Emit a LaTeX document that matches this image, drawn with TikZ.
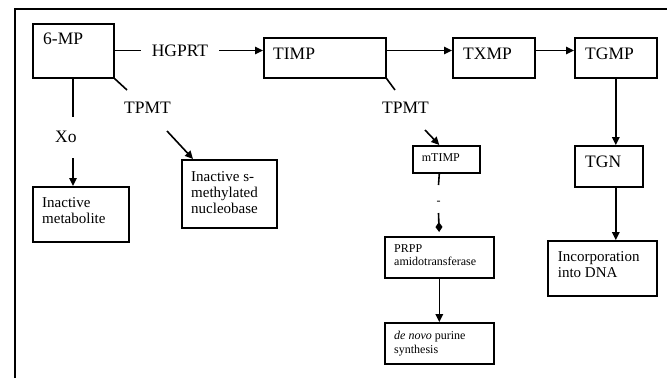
\documentclass[tikz,border=0pt]{standalone}
\usepackage{fontspec}
\setmainfont{Liberation Serif}
\usetikzlibrary{arrows.meta,calc}
\begin{document}
\begin{tikzpicture}[x=1pt,y=-1pt,
  box/.style={draw, line width=1.6pt, rectangle, inner sep=0pt, anchor=north west},
  big/.style={font=\fontsize{17.5}{21}\selectfont, inner sep=0pt, anchor=base west},
  mid/.style={font=\fontsize{15}{16}\selectfont, inner sep=0pt, anchor=base west, align=left},
  small/.style={font=\fontsize{12}{13.5}\selectfont, inner sep=0pt, anchor=base west, align=left},
  conn/.style={line width=1.6pt},
  arr/.style={conn, -{Triangle[length=8pt,width=7.5pt]}},
]
\useasboundingbox (0,0) rectangle (667,378);
% frame
\draw[line width=1.3pt] (15,378) -- (15,9) -- (667,9);

% boxes
\node[box, minimum width=81pt, minimum height=54pt] (mp) at (32,23) {};
\node[box, minimum width=96pt, minimum height=55pt] (inact1) at (32,186) {};
\node[box, minimum width=95pt, minimum height=68pt] (inact2) at (181,159) {};
\node[box, minimum width=122pt, minimum height=40pt] (timp) at (263,37) {};
\node[box, minimum width=82pt, minimum height=40pt] (txmp) at (452,37) {};
\node[box, minimum width=82pt, minimum height=40pt] (tgmp) at (574,37) {};
\node[box, minimum width=68pt, minimum height=41pt] (tgn) at (574,145) {};
\node[box, minimum width=109pt, minimum height=55pt] (inc) at (547,240) {};
\node[box, minimum width=67pt, minimum height=27pt] (mtimp) at (412,145) {};
\node[box, minimum width=109pt, minimum height=41pt] (prpp) at (384,236) {};
\node[box, minimum width=109pt, minimum height=41pt] (denovo) at (384,322) {};

% texts (multi-line texts: base = baseline of the last line)
\node[big] (t6mp) at (43,44) {6-MP};
\node[big] (ttimp) at (273,59) {TIMP};
\node[big] (ttxmp) at (463,59) {TXMP};
\node[big] (ttgmp) at (585,59) {TGMP};
\node[big] (ttgn) at (585,167) {TGN};
\node[big] (xo) at (55,142) {Xo};
\node[big] (tp1) at (124,113) {TPMT};
\node[big] (tp2) at (382,113) {TPMT};
\node[big, anchor=center, inner xsep=11pt] (hg) at (180,50.5) {HGPRT};
\node[mid] (tinact1) at (42,223) {Inactive\\metabolite};
\node[mid] (tinact2) at (191,213) {Inactive s-\\methylated\\nucleobase};
\node[small] (tmtimp) at (421.7,161) {mTIMP};
\node[small] (tprpp) at (394,265.5) {PRPP\\amidotransferase};
\node[small] (tdenovo) at (394,353) {\textit{de novo} purine\\synthesis};
\node[mid] (tinc) at (557.7,277) {Incorporation\\into DNA};
\node[small, anchor=center] (dash) at (438.5,203) {-};

% break points of interrupted connectors
\coordinate (xa) at (73,117);
\coordinate (xb) at (73,158);
\coordinate (ta) at (127,90);
\coordinate (tb) at (167,131);
\coordinate (tc) at (395,90);
\coordinate (td) at (425,130);
\coordinate (te) at (438.5,185);
\coordinate (tf) at (438.5,213);

% connectors
\draw[conn] (mp.east |- hg) -- (hg.west);
\draw[arr] (hg.east) -- (timp.west |- hg);
\draw[arr] (timp.east |- hg) -- (txmp.west |- hg);
\draw[arr] (txmp.east |- hg) -- (tgmp.west |- hg);
\draw[arr] (tgmp.south) -- (tgmp.south |- tgn.north);
\draw[arr] (tgn.south -| tgmp.south) -- (inc.north -| tgmp.south);

\draw[conn] (mp.south -| xa) -- (xa);
\draw[arr] (xb) -- (xb |- inact1.north);

\draw[conn] (mp.south east) -- (ta);
\draw[arr] (tb) -- ($(inact2.north west)+(12,0)$);

\draw[conn] (timp.south east) -- (tc);
\draw[arr] (td) -- (mtimp.north -| prpp.north);
\draw[conn] (mtimp.south -| prpp.north) -- (te);
\draw[conn, -{Diamond[length=10pt,width=7pt]}, shorten >=4pt] (tf) -- (prpp.north);
\draw[arr] (prpp.south) -- (denovo.north);
\end{tikzpicture}
\end{document}
